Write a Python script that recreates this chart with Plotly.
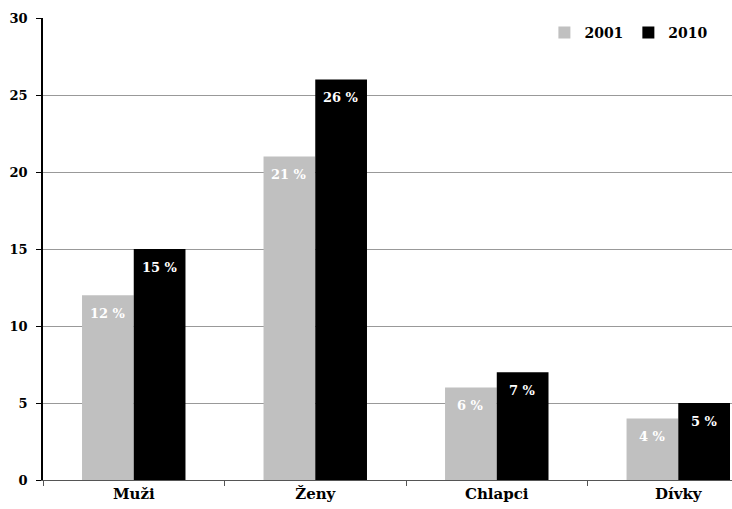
import plotly.graph_objects as go

categories = ["Muži", "Ženy", "Chlapci", "Dívky"]
values_2001 = [12, 21, 6, 4]
values_2010 = [15, 26, 7, 5]
labels_2001 = ["12 %", "21 %", "6 %", "4 %"]
labels_2010 = ["15 %", "26 %", "7 %", "5 %"]
y_ticks = [0, 5, 10, 15, 20, 25, 30]

FONT = "DejaVu Serif"
BARGAP = 0.43

fig = go.Figure()
fig.add_trace(go.Bar(
    x=categories, y=values_2001, name="2001",
    marker=dict(color="#c0c0c0", line=dict(width=0)),
))
fig.add_trace(go.Bar(
    x=categories, y=values_2010, name="2010",
    marker=dict(color="#000000", line=dict(width=0)),
))

# value labels placed inside the top of each bar
bar_w = (1 - BARGAP) / 2
for i, (v, t) in enumerate(zip(values_2001, labels_2001)):
    fig.add_annotation(x=i - bar_w / 2, y=v, text=t, showarrow=False,
                       xref="x", yref="y", yshift=-18, yanchor="middle",
                       font=dict(family=FONT, size=13, color="white", weight="bold"))
for i, (v, t) in enumerate(zip(values_2010, labels_2010)):
    fig.add_annotation(x=i + bar_w / 2, y=v, text=t, showarrow=False,
                       xref="x", yref="y", yshift=-18, yanchor="middle",
                       font=dict(family=FONT, size=13, color="white", weight="bold"))

fig.update_layout(
    width=732, height=509,
    margin=dict(l=43, r=0, t=18, b=29),
    plot_bgcolor="white", paper_bgcolor="white",
    barmode="group", bargap=BARGAP, bargroupgap=0,
    font=dict(family=FONT, size=15, color="black"),
    showlegend=True,
    legend=dict(
        orientation="h", x=0.973, xanchor="right", y=0.968, yanchor="middle",
        font=dict(family=FONT, size=14, color="black", weight="bold"),
        bgcolor="rgba(0,0,0,0)", itemwidth=30, traceorder="normal",
    ),
)
fig.update_xaxes(
    range=[-0.5, 3.296],
    showline=True, linecolor="#555555", linewidth=1,
    ticks="outside", tickson="boundaries", ticklen=5, tickcolor="#555555",
    tickfont=dict(family=FONT, size=15, color="black", weight="bold"),
    showgrid=False, zeroline=False,
)
fig.update_yaxes(
    range=[0, 30], tickvals=y_ticks,
    showline=True, linecolor="black", linewidth=1.5,
    ticks="outside", ticklen=5, tickcolor="black", ticklabelstandoff=6,
    tickfont=dict(family=FONT, size=13, color="black", weight="bold"),
    showgrid=True, gridcolor="#999999", gridwidth=1, zeroline=False,
)

fig.write_html("out.html")
